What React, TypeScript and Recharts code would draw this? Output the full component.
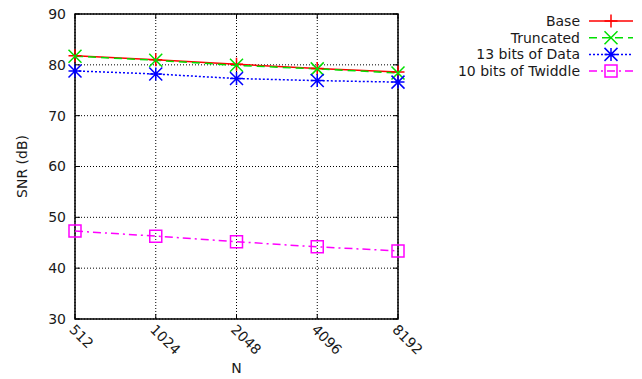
import React from 'react';
import { LineChart, Line, XAxis, YAxis, CartesianGrid, ReferenceArea } from 'recharts';

const categories = ['512', '1024', '2048', '4096', '8192'];
const baseValues = [81.8, 81.0, 80.1, 79.3, 78.6];
const truncatedValues = [81.7, 80.9, 79.9, 79.2, 78.4];
const data13Values = [78.8, 78.2, 77.3, 76.9, 76.6];
const twiddleValues = [47.3, 46.3, 45.2, 44.2, 43.4];
const yTicks = [30, 40, 50, 60, 70, 80, 90];
const seriesNames = ['Base', 'Truncated', '13 bits of Data', '10 bits of Twiddle'];

const data = categories.map((n, i) => ({
  n,
  base: baseValues[i],
  truncated: truncatedValues[i],
  d13: data13Values[i],
  twiddle: twiddleValues[i],
}));

const W = 642;
const H = 379;
const PLOT_LEFT = 75;
const PLOT_RIGHT = 398;
const PLOT_TOP = 14;
const PLOT_BOTTOM = 319;
const FONT = "'DejaVu Sans'";
const FS = 14;
const TXT = '#1a1a1a';

const RED = '#ff0000';
const GREEN = '#00e000';
const BLUE = '#0000ff';
const MAGENTA = '#ff00ff';

type MarkerKind = 'plus' | 'cross' | 'star' | 'square';
const S = 6.5;

function markerPath(kind: MarkerKind, cx: number, cy: number) {
  if (kind === 'plus') return `M${cx - S},${cy}H${cx + S}M${cx},${cy - S}V${cy + S}`;
  if (kind === 'cross') return `M${cx - S},${cy - S}L${cx + S},${cy + S}M${cx - S},${cy + S}L${cx + S},${cy - S}`;
  if (kind === 'star')
    return `M${cx - S},${cy}H${cx + S}M${cx},${cy - S}V${cy + S}M${cx - S},${cy - S}L${cx + S},${cy + S}M${cx - S},${cy + S}L${cx + S},${cy - S}`;
  return `M${cx - S + 0.5},${cy - S + 0.5}H${cx + S - 0.5}V${cy + S - 0.5}H${cx - S + 0.5}Z`;
}

const makeDot = (kind: MarkerKind, color: string) => (props: any) => {
  const { cx, cy, index } = props;
  if (cx == null || cy == null) return <g key={index} />;
  return <path key={index} d={markerPath(kind, cx, cy)} stroke={color} strokeWidth={1.5} fill="none" />;
};

const series = [
  { key: 'base', name: seriesNames[0], color: RED, dash: undefined as string | undefined, marker: 'plus' as MarkerKind },
  { key: 'truncated', name: seriesNames[1], color: GREEN, dash: '8 5', marker: 'cross' as MarkerKind },
  { key: 'd13', name: seriesNames[2], color: BLUE, dash: '2 2', marker: 'star' as MarkerKind },
  { key: 'twiddle', name: seriesNames[3], color: MAGENTA, dash: '8 4 2 4', marker: 'square' as MarkerKind },
];

const YTick = (props: any) => {
  const { y, payload } = props;
  return (
    <g>
      <line x1={PLOT_LEFT} x2={PLOT_LEFT + 5} y1={y} y2={y} stroke="#000" strokeWidth={1} />
      <line x1={PLOT_RIGHT - 5} x2={PLOT_RIGHT} y1={y} y2={y} stroke="#000" strokeWidth={1} />
      <text x={PLOT_LEFT - 9} y={y} dy="0.35em" textAnchor="end" fontSize={FS} fontFamily={FONT} fill={TXT}>
        {payload.value}
      </text>
    </g>
  );
};

const XTick = (props: any) => {
  const { x, payload } = props;
  const ax = x - 3;
  const ay = PLOT_BOTTOM + 8;
  return (
    <g>
      <line x1={x} x2={x} y1={PLOT_BOTTOM} y2={PLOT_BOTTOM - 5} stroke="#000" strokeWidth={1} />
      <line x1={x} x2={x} y1={PLOT_TOP} y2={PLOT_TOP + 5} stroke="#000" strokeWidth={1} />
      <text
        x={ax}
        y={ay}
        dy="0.35em"
        textAnchor="start"
        transform={`rotate(45, ${ax}, ${ay})`}
        fontSize={FS}
        fontFamily={FONT}
        fill={TXT}
      >
        {payload.value}
      </text>
    </g>
  );
};

const YLabel = (props: any) => {
  const vb = props.viewBox || {};
  const cx = 22;
  const cy = (vb.y ?? PLOT_TOP) + (vb.height ?? PLOT_BOTTOM - PLOT_TOP) / 2;
  return (
    <text x={cx} y={cy} dy="0.35em" textAnchor="middle" transform={`rotate(-90, ${cx}, ${cy})`} fontSize={FS} fontFamily={FONT} fill={TXT}>
      SNR (dB)
    </text>
  );
};

const XLabel = (props: any) => {
  const vb = props.viewBox || {};
  const cx = (vb.x ?? PLOT_LEFT) + (vb.width ?? PLOT_RIGHT - PLOT_LEFT) / 2;
  return (
    <text x={cx} y={368} dy="0.35em" textAnchor="middle" fontSize={FS} fontFamily={FONT} fill={TXT}>
      N
    </text>
  );
};

const LegendBox = () => (
  <svg width={W} height={H} style={{ position: 'absolute', left: 0, top: 0, pointerEvents: 'none' }}>
    {series.map((s, i) => {
      const y = 21 + i * 16.7;
      return (
        <g key={s.key}>
          <text x={580} y={y} dy="0.35em" textAnchor="end" fontSize={FS} fontFamily={FONT} fill={TXT}>
            {s.name}
          </text>
          <line x1={589} x2={633} y1={y} y2={y} stroke={s.color} strokeWidth={1.5} strokeDasharray={s.dash} />
          <path d={markerPath(s.marker, 611, y)} stroke={s.color} strokeWidth={1.5} fill="none" />
        </g>
      );
    })}
  </svg>
);

export default function App() {
  return (
    <div style={{ position: 'absolute', left: 0, top: 0, width: W, height: H, background: '#fff' }}>
      <LineChart
        width={W}
        height={H}
        data={data}
        margin={{ top: PLOT_TOP, right: W - PLOT_RIGHT, bottom: 0, left: 0 }}
      >
        <CartesianGrid stroke="#000" strokeDasharray="1 2" strokeWidth={1} />
        <XAxis
          dataKey="n"
          type="category"
          height={H - PLOT_BOTTOM}
          axisLine={false}
          tickLine={false}
          tick={<XTick />}
          interval={0}
          label={{ content: <XLabel /> }}
        />
        <YAxis
          type="number"
          domain={[30, 90]}
          ticks={yTicks}
          width={PLOT_LEFT}
          axisLine={false}
          tickLine={false}
          tick={<YTick />}
          interval={0}
          label={{ content: <YLabel /> }}
        />
        <ReferenceArea y1={30} y2={90} fill="none" stroke="#000" strokeWidth={1.5} fillOpacity={0} ifOverflow="visible" />
        {series.map((s) => (
          <Line
            key={s.key}
            type="linear"
            dataKey={s.key}
            name={s.name}
            stroke={s.color}
            strokeWidth={1.5}
            strokeDasharray={s.dash}
            dot={makeDot(s.marker, s.color)}
            activeDot={false}
            isAnimationActive={false}
          />
        ))}
      </LineChart>
      <LegendBox />
    </div>
  );
}
